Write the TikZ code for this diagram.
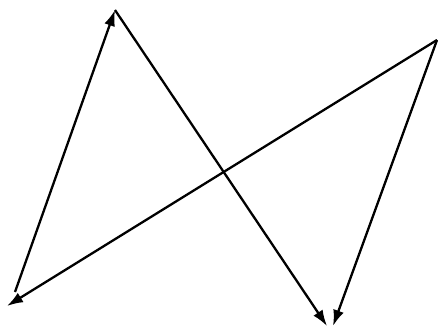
\documentclass[tikz,border=0pt]{standalone}
\usetikzlibrary{arrows.meta}
\tikzset{arr/.style={-{Latex[length=16pt,width=11pt]}, line width=2.3pt, black}}
\begin{document}
\begin{tikzpicture}[x=1pt,y=-1pt]
\useasboundingbox (0,0) rectangle (438,331);
\coordinate (T) at (115,10);
\coordinate (BL) at (7,306);
\coordinate (B1) at (327,326);
\coordinate (B2) at (333,326);
\coordinate (R) at (437,40);
\coordinate (BLs) at (15,292);
\draw[arr] (BLs) -- (T);
\draw[arr] (T) -- (B1);
\draw[arr] (R) -- (B2);
\draw[arr] (R) -- (BL);
\end{tikzpicture}
\end{document}
